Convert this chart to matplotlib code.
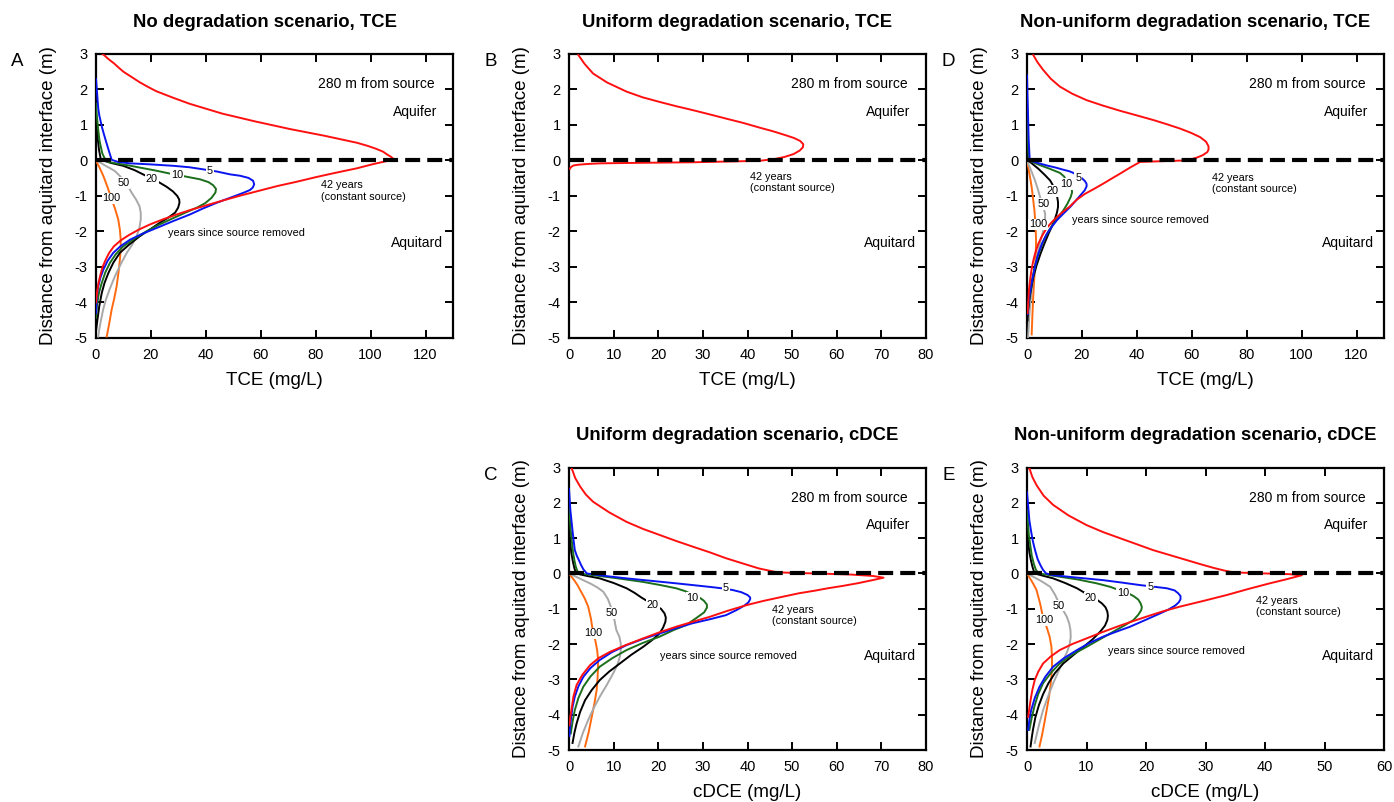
import matplotlib
matplotlib.use("Agg")
import matplotlib.pyplot as plt

plt.rcParams["font.family"] = ["Liberation Sans", "DejaVu Sans"]
plt.rcParams["axes.unicode_minus"] = False

# concentration (mg/L), with depth z (m) from the aquitard interface

# ---------------- Panel A: no degradation, TCE ----------------
a_red_c = [2.4, 3.2, 4.2, 5.3, 6.5, 8.2, 10, 13, 16, 19, 22, 28, 34, 40, 46, 52, 58, 64.5, 71, 77, 83, 89,
           95, 99, 102, 104.5, 106, 107.5, 108.5,
           101, 95, 87, 80, 73, 66, 59.5, 53, 46.5, 40.3, 34.5, 29.4, 24.3, 19.7, 15.5, 12, 9, 6.5, 4.8,
           3.5, 2.4, 1.5, 0.9, 0.5, 0.2, 0]
a_red_z = [3.0, 2.95, 2.88, 2.81, 2.74, 2.62, 2.5, 2.35, 2.2, 2.07, 1.95, 1.77, 1.6, 1.46, 1.32, 1.21, 1.1,
           0.99, 0.88, 0.79, 0.7, 0.6, 0.5, 0.41, 0.33, 0.25, 0.17, 0.1, 0.03,
           -0.1, -0.22, -0.35, -0.47, -0.6, -0.72, -0.85, -0.98, -1.12, -1.26, -1.39, -1.52, -1.66, -1.8,
           -1.95, -2.1, -2.25, -2.42, -2.6, -2.8, -3.0, -3.25, -3.45, -3.65, -3.85, -4.0]
a_blue_c = [0, 0.2, 0.4, 0.6, 0.85, 1.2, 1.7, 2.2, 2.7, 3.6, 4.5, 5.1, 5.7,
            8, 12.4, 20, 28.2, 34, 39.1, 44, 48.8, 52.5, 55.5, 57.2, 57.6, 57.1, 56.1, 54, 51.3, 47.8,
            44, 39, 34.2, 28, 22.1, 17, 12.4, 9, 6.3, 4.2, 2.7, 1.6, 0.8, 0.4, 0.2, 0]
a_blue_z = [2.3, 2.1, 1.9, 1.68, 1.45, 1.27, 1.1, 0.93, 0.79, 0.55, 0.32, 0.17, 0.02,
            -0.04, -0.08, -0.11, -0.15, -0.19, -0.25, -0.31, -0.39, -0.43, -0.49, -0.57, -0.67, -0.76,
            -0.83, -0.9, -0.98, -1.08, -1.19, -1.35, -1.52, -1.71, -1.9, -2.06, -2.23, -2.41, -2.6, -2.83,
            -3.07, -3.3, -3.55, -3.78, -3.98, -4.3]
a_green_c = [0, 0.2, 0.5, 0.9, 1.3, 1.8, 2.3, 2.9, 3.5,
             4.4, 8, 12, 16, 21.5, 27, 32.5, 37.9, 41, 42.7, 43.7, 43.5, 42.1, 39.8, 36.7, 32.5, 28.2,
             23.2, 18.5, 14, 9.9, 7.2, 5.1, 3.4, 2.1, 1.1, 0.5, 0.2, 0]
a_green_z = [1.6, 1.35, 1.1, 0.8, 0.55, 0.37, 0.2, 0.1, 0.02,
             -0.04, -0.09, -0.14, -0.2, -0.28, -0.37, -0.45, -0.53, -0.61, -0.7, -0.8, -0.9, -1.05,
             -1.2, -1.33, -1.47, -1.62, -1.8, -1.99, -2.2, -2.42, -2.64, -2.88, -3.15, -3.45, -3.72,
             -4.0, -4.2, -4.43]
a_black_c = [0, 0.25, 0.5, 0.8, 1.1, 1.5, 1.8,
             5.5, 9.9, 14, 17.9, 22, 25.7, 28, 29.6, 30.3, 30.4, 29.9, 28.8, 26.3, 23.3, 19.7, 16, 12.2,
             8.7, 6.3, 4.5, 3.1, 2.1, 1.2, 0.5, 0]
a_black_z = [1.2, 0.95, 0.7, 0.5, 0.3, 0.13, 0.02,
             -0.07, -0.15, -0.27, -0.42, -0.57, -0.74, -0.87, -1.0, -1.1, -1.19, -1.33, -1.47, -1.61,
             -1.75, -1.94, -2.13, -2.36, -2.6, -2.88, -3.17, -3.45, -3.73, -4.1, -4.5, -4.8]
a_gray_c = [0, 1.8, 3.5, 5.2, 6.9, 8.5, 10, 11.6, 13, 14.6, 15.8, 16.3, 16.3, 15.8, 14.8, 13.2, 11.2,
            9, 6.9, 5.1, 3.6, 2.6, 1.8, 1.2, 0.8]
a_gray_z = [0, -0.07, -0.15, -0.22, -0.3, -0.42, -0.55, -0.72, -0.91, -1.1, -1.28, -1.47, -1.66, -1.9,
            -2.13, -2.37, -2.6, -2.92, -3.26, -3.6, -3.92, -4.2, -4.5, -4.75, -4.96]
a_orange_c = [0, 0.6, 1.3, 2.0, 2.7, 4.2, 5.5, 6.9, 8.1, 8.7, 9.0, 9.0, 8.7, 8.2, 7.5, 6.6, 5.7, 4.8, 3.9]
a_orange_z = [0, -0.1, -0.2, -0.32, -0.44, -0.75, -1.05, -1.35, -1.66, -1.95, -2.23, -2.5, -2.79, -3.15,
              -3.55, -3.9, -4.2, -4.6, -4.96]

# ---------------- Panel B: uniform degradation, TCE ----------------
b_red_c = [2.1, 3.5, 5.4, 8.5, 12.9, 16.5, 20.3, 24, 27.7, 31.5, 35.2, 39, 42.6, 45.8, 48.6, 50.5, 51.8,
           52.5, 52.4, 51.7, 50.3, 48.3, 46, 42.6, 35, 27.7, 20, 12.9, 7, 3.9, 2, 1, 0.5, 0.2]
b_red_z = [2.97, 2.72, 2.45, 2.2, 1.94, 1.78, 1.65, 1.53, 1.42, 1.3, 1.18, 1.06, 0.93, 0.82, 0.71, 0.63,
           0.55, 0.46, 0.37, 0.28, 0.18, 0.1, 0.04, -0.01, -0.03, -0.05, -0.06, -0.07, -0.08, -0.1,
           -0.12, -0.14, -0.18, -0.23]

# ---------------- Panel C: uniform degradation, cDCE ----------------
c_red_c = [0.6, 1.4, 2.5, 3.8, 5.4, 9, 12.9, 16.6, 20.3, 24, 27.7, 31.5, 35.2, 39, 42.6, 46.7, 55, 63,
           68, 70.5, 68, 65, 61.5, 58, 55, 51.6, 47.5, 43.5, 39.7, 35.5, 31.5, 27.7, 24, 20.2, 16.6, 12.7,
           9.2, 6.6, 4.7, 3.0, 1.7, 1.0, 0.6, 0.3, 0.1]
c_red_z = [2.98, 2.7, 2.46, 2.23, 2.03, 1.73, 1.46, 1.26, 1.09, 0.92, 0.76, 0.6, 0.43, 0.28, 0.14, 0.03,
           0.0, -0.03, -0.07, -0.12, -0.19, -0.27, -0.35, -0.42, -0.49, -0.56, -0.67, -0.78, -0.9, -1.06,
           -1.23, -1.37, -1.51, -1.67, -1.84, -2.03, -2.22, -2.4, -2.6, -2.87, -3.16, -3.48, -3.82,
           -4.05, -4.3]
c_blue_c = [0, 0.15, 0.3, 0.55, 0.8, 1.05, 1.3, 1.75, 2.2, 2.7, 3.2, 4.0,
            8, 12.9, 18.5, 24, 28.5, 32.2, 34.8, 36.7, 38.6, 40, 40.6, 40.6, 40.2, 39.3, 37.5, 35.2, 31.5,
            27.7, 24, 20.3, 16.5, 12.9, 9.6, 6.9, 4.8, 3.2, 2.1, 1.3, 0.8, 0.5, 0.25, 0.1]
c_blue_z = [2.4, 2.1, 1.8, 1.5, 1.2, 0.92, 0.66, 0.5, 0.38, 0.24, 0.12, 0.0,
            -0.07, -0.14, -0.21, -0.28, -0.34, -0.39, -0.43, -0.47, -0.53, -0.61, -0.68, -0.73, -0.82,
            -0.91, -1.04, -1.18, -1.3, -1.41, -1.55, -1.7, -1.86, -2.03, -2.23, -2.45, -2.68, -2.93,
            -3.2, -3.49, -3.78, -4.06, -4.35, -4.6]
c_green_c = [0, 0.2, 0.4, 0.65, 0.9, 1.2, 1.5, 1.85, 2.2,
             5.4, 11, 16.6, 20.5, 24, 26, 27.7, 29.2, 30.2, 30.9, 30.9, 30.3, 29, 26.3, 23.5, 20.3, 16.5,
             12.9, 9.7, 6.9, 4.8, 3.2, 2.1, 1.3, 0.8, 0.4]
c_green_z = [1.9, 1.55, 1.2, 0.9, 0.6, 0.38, 0.2, 0.08, 0.0,
             -0.05, -0.14, -0.24, -0.33, -0.42, -0.5, -0.6, -0.68, -0.77, -0.88, -0.97, -1.1, -1.22,
             -1.46, -1.6, -1.79, -1.97, -2.17, -2.4, -2.64, -2.92, -3.21, -3.53, -3.87, -4.2, -4.53]
c_black_c = [0, 0.25, 0.5, 0.85, 1.2, 1.6,
             4, 6.9, 10, 12.9, 14.7, 16.2, 18.8, 20.6, 21.4, 21.7, 21.6, 21.1, 20.3, 18.6, 16.6, 14, 11.4,
             9, 6.9, 5.1, 3.6, 2.5, 1.7, 1.2, 0.8]
c_black_z = [1.3, 0.95, 0.6, 0.35, 0.15, 0.0,
             -0.07, -0.14, -0.27, -0.42, -0.55, -0.68, -0.88, -1.0, -1.13, -1.25, -1.37, -1.53, -1.7,
             -1.89, -2.08, -2.3, -2.55, -2.78, -3.02, -3.3, -3.59, -3.92, -4.25, -4.52, -4.8]
c_gray_c = [0, 1.2, 2.5, 5, 6.4, 7.7, 8.7, 9.4, 10.1, 10.6, 11.3, 11.6, 11.6, 11.4, 10.8, 9.9, 8.5, 6.9,
            5.5, 4.3, 3.1, 2.1]
c_gray_z = [0, -0.07, -0.15, -0.3, -0.4, -0.52, -0.72, -0.95, -1.27, -1.6, -1.8, -1.98, -2.17, -2.36,
            -2.6, -2.83, -3.15, -3.49, -3.82, -4.15, -4.52, -4.9]
c_orange_c = [0, 0.6, 1.2, 1.9, 2.5, 3.5, 4.3, 4.9, 5.3, 5.9, 6.3, 6.5, 6.5, 6.4, 6.2, 5.7, 5.1, 4.4, 3.6]
c_orange_z = [0, -0.1, -0.2, -0.33, -0.47, -0.7, -0.94, -1.27, -1.6, -1.9, -2.17, -2.4, -2.64, -2.97,
              -3.3, -3.68, -4.06, -4.5, -4.9]

# ---------------- Panel D: non-uniform degradation, TCE ----------------
d_red_c = [2.3, 3.8, 5.9, 8.7, 12, 16.5, 21.7, 27.5, 33.9, 40, 46, 51, 55.7, 59.7, 63, 65.2, 66.1, 66.1,
           65.7, 64, 61.8, 59.5, 57, 49, 41.2, 37.5, 33.9, 30.8, 27.8, 24.4, 21.1, 18.2, 15.5, 13, 10.8,
           9, 7.2, 5.5, 4.1, 3.1, 2.3, 1.6, 1.1, 0.7, 0.5, 0.2]
d_red_z = [2.97, 2.77, 2.55, 2.3, 2.08, 1.88, 1.7, 1.55, 1.4, 1.27, 1.14, 1.02, 0.9, 0.78, 0.66, 0.53,
           0.4, 0.31, 0.24, 0.15, 0.08, 0.03, 0.0, -0.02, -0.04, -0.2, -0.37, -0.51, -0.65, -0.8, -0.94,
           -1.1, -1.3, -1.45, -1.6, -1.74, -1.9, -2.12, -2.35, -2.58, -2.82, -3.1, -3.38, -3.65, -3.95,
           -4.3]
d_blue_c = [0, 0.15, 0.3, 0.45, 0.6, 0.8, 1.0, 3.5, 7.2, 10.5, 13.2, 15.3, 16.9, 18.5, 20, 21.1, 21.7,
            21.7, 21, 19.9, 17.9, 15.7, 13.2, 10.8, 8.9, 7.2, 5.5, 4.1, 3, 2.1, 1.4, 0.8, 0.4, 0.2]
d_blue_z = [2.4, 1.9, 1.5, 1.05, 0.6, 0.3, 0.0, -0.06, -0.14, -0.2, -0.26, -0.3, -0.35, -0.43, -0.5,
            -0.58, -0.66, -0.73, -0.84, -0.94, -1.12, -1.31, -1.5, -1.69, -1.88, -2.07, -2.33, -2.63,
            -2.95, -3.29, -3.57, -3.85, -4.1, -4.33]
d_green_c = [0, 0.15, 0.3, 0.5, 0.7, 2.5, 4.7, 8.5, 12, 13.5, 14.2, 15.4, 16.3, 16.4, 15.9, 14.7, 13.2,
             11.4, 9.6, 8, 6.6, 5.1, 3.8, 2.7, 1.8, 1.1, 0.6]
d_green_z = [1.5, 1.1, 0.7, 0.3, 0.0, -0.06, -0.13, -0.24, -0.35, -0.45, -0.55, -0.65, -0.77, -0.9,
             -1.03, -1.22, -1.41, -1.6, -1.78, -1.97, -2.16, -2.44, -2.73, -3.05, -3.38, -3.7, -4.04]
d_black_c = [0, 0.15, 0.4, 2.2, 4.1, 6.4, 8.4, 9.3, 9.8, 10.6, 11, 11.3, 11.3, 10.9, 10.2, 9.1, 7.8, 6.3,
             4.9, 3.5, 2.3, 1.5, 0.8, 0.4, 0.2]
d_black_z = [1.0, 0.5, 0.0, -0.11, -0.23, -0.4, -0.56, -0.68, -0.8, -0.92, -1.03, -1.17, -1.31, -1.47,
             -1.64, -1.85, -2.07, -2.35, -2.63, -2.95, -3.29, -3.62, -3.95, -4.22, -4.5]
d_gray_c = [0, 0.75, 1.5, 2.2, 2.9, 4, 5, 5.9, 6.6, 6.6, 6.2, 5.5, 4.6, 3.7, 2.9, 2.2, 1.7, 1.2, 0.8,
            0.6, 0.4]
d_gray_z = [0, -0.14, -0.28, -0.42, -0.56, -0.82, -1.1, -1.3, -1.5, -1.7, -1.88, -2.1, -2.35, -2.68,
            -3.01, -3.33, -3.66, -4.03, -4.41, -4.7, -4.97]
d_orange_c = [0, 0.45, 0.9, 1.3, 1.7, 2.2, 2.7, 3.1, 3.3, 3.2, 2.9, 2.6, 2.3, 2.0, 1.7]
d_orange_z = [0, -0.19, -0.38, -0.56, -0.75, -1.07, -1.4, -1.82, -2.25, -2.62, -3.0, -3.38, -3.77,
              -4.3, -4.9]

# ---------------- Panel E: non-uniform degradation, cDCE ----------------
e_red_c = [0.4, 0.9, 1.6, 2.8, 4.4, 7, 10, 12.8, 15.6, 18.4, 21.2, 24, 26.8, 29.2, 31.3, 33.2, 34.7, 40,
           44, 46.2, 43.5, 40.8, 37.2, 33.6, 29.6, 25.7, 22.9, 20.5, 18, 15.6, 12.7, 10, 7.6, 5.5, 4,
           2.7, 1.9, 1.3, 0.9, 0.6, 0.4, 0.2]
e_red_z = [2.98, 2.73, 2.5, 2.2, 1.94, 1.64, 1.37, 1.17, 1.0, 0.83, 0.66, 0.52, 0.38, 0.26, 0.16, 0.08,
           0.03, 0.0, -0.02, -0.05, -0.17, -0.28, -0.44, -0.61, -0.78, -0.94, -1.07, -1.2, -1.34, -1.48,
           -1.66, -1.84, -2.0, -2.17, -2.35, -2.55, -2.78, -3.02, -3.3, -3.59, -3.82, -4.06]
e_blue_c = [0, 0.2, 0.4, 0.7, 1.0, 1.4, 1.8, 2.3, 2.7, 3.2,
            4.4, 8.5, 12.8, 16, 19, 21.5, 23.5, 24.8, 25.4, 25.8, 25.8, 25.5, 24.9, 23.8, 22.4, 20, 17.3,
            15, 12.8, 10.5, 8.4, 6.2, 4.4, 3.1, 2.1, 1.3, 0.7, 0.4, 0.2]
e_blue_z = [2.3, 1.9, 1.5, 1.18, 0.9, 0.63, 0.4, 0.22, 0.1, 0.0,
            -0.05, -0.12, -0.19, -0.26, -0.33, -0.38, -0.42, -0.48, -0.56, -0.64, -0.73, -0.82, -0.91,
            -1.02, -1.13, -1.31, -1.51, -1.65, -1.79, -1.97, -2.17, -2.4, -2.64, -2.92, -3.21, -3.53,
            -3.87, -4.15, -4.43]
e_green_c = [0, 0.15, 0.3, 0.55, 0.8, 1.15, 1.5, 2.0,
             5.0, 8.5, 11.7, 14, 15.9, 17.1, 17.9, 18.7, 19.1, 19.3, 19.2, 18.7, 17.9, 16.3, 14.5, 12.3,
             10, 7.6, 5.5, 4, 2.7, 1.9, 1.3, 0.8, 0.4]
e_green_z = [1.8, 1.45, 1.1, 0.8, 0.5, 0.27, 0.1, 0.0,
             -0.08, -0.17, -0.28, -0.38, -0.5, -0.57, -0.64, -0.74, -0.85, -0.95, -1.04, -1.17, -1.32,
             -1.48, -1.65, -1.86, -2.08, -2.3, -2.55, -2.82, -3.11, -3.41, -3.73, -4.08, -4.43]
e_black_c = [0, 0.2, 0.4, 0.65, 0.9, 1.1, 1.3,
             2.8, 4.4, 6.4, 8.4, 9.6, 10.7, 11.8, 12.6, 13.2, 13.5, 13.6, 13.5, 13.1, 12.3, 11, 9.5, 7.8,
             6.1, 4.7, 3.6, 2.7, 2.0, 1.4, 1.0, 0.8, 0.6]
e_black_z = [1.2, 0.9, 0.6, 0.38, 0.2, 0.09, 0.0,
             -0.07, -0.14, -0.27, -0.42, -0.54, -0.66, -0.75, -0.85, -0.96, -1.08, -1.2, -1.32, -1.48,
             -1.65, -1.87, -2.08, -2.31, -2.55, -2.82, -3.11, -3.42, -3.73, -4.08, -4.43, -4.65, -4.9]
e_gray_c = [0, 1, 2.0, 3.0, 3.9, 4.7, 5.4, 6.1, 6.7, 7.1, 7.3, 7.35, 7.2, 6.8, 6.1, 5.3, 4.4, 3.5, 2.7,
            2.0, 1.3]
e_gray_z = [0, -0.09, -0.18, -0.28, -0.38, -0.6, -0.85, -1.05, -1.23, -1.42, -1.6, -1.8, -1.98, -2.2,
            -2.45, -2.77, -3.11, -3.5, -3.87, -4.3, -4.8]
e_orange_c = [0, 0.4, 0.8, 1.2, 1.6, 2.2, 2.7, 3.3, 3.8, 4.1, 4.2, 4.2, 4.1, 3.9, 3.6, 3.2, 2.8, 2.5, 2.1]
e_orange_z = [0, -0.11, -0.22, -0.34, -0.47, -0.85, -1.25, -1.52, -1.79, -2.07, -2.36, -2.65, -2.93,
              -3.26, -3.59, -3.97, -4.34, -4.6, -4.9]

# curve labels (years since source removed)
year_labels = ["5", "10", "20", "50", "100"]
a_label_pos = [(41.5, -0.29), (29.6, -0.42), (20.3, -0.53), (9.9, -0.64), (5.7, -1.07)]
c_label_pos = [(35.2, -0.42), (27.7, -0.69), (18.8, -0.9), (9.5, -1.13), (5.4, -1.7)]
d_label_pos = [(18.7, -0.48), (14.1, -0.67), (9.4, -0.86), (5.9, -1.22), (4.1, -1.8)]
e_label_pos = [(20.7, -0.39), (16.2, -0.56), (10.7, -0.69), (5.4, -0.91), (2.9, -1.32)]

colors = {"red": "#ff1010", "blue": "#0a14f0", "green": "#1b6e1b",
          "black": "#000000", "gray": "#a8a8a8", "orange": "#ff6a10"}

W, H = 1394, 802
fig = plt.figure(figsize=(W / 100, H / 100), dpi=100)


def make_axes(left_px, top_px, bottom_px, width_px=357):
    return fig.add_axes([left_px / W, (H - bottom_px) / H, width_px / W, (bottom_px - top_px) / H])


def draw_panel(ax, curves, xmax, xstep, xlabel, title, letter,
               label_pos=None, const_pos=None, removed_pos=None):
    for c, z, col in curves:
        ax.plot(c, z, color=colors[col], lw=1.4, zorder=3, solid_joinstyle="round")
    ax.axhline(0, color="black", lw=3, dashes=(3.6, 1.7), zorder=5)
    if label_pos is not None:
        for lab, (x, y) in zip(year_labels, label_pos):
            ax.text(x, y, lab, fontsize=7.8, ha="center", va="center", zorder=4,
                    bbox=dict(facecolor="white", edgecolor="none", pad=0.6))
    if const_pos is not None:
        ax.text(const_pos[0], const_pos[1], "42 years\n(constant source)", fontsize=7.8,
                ha="left", va="center", linespacing=1.15, zorder=6)
    if removed_pos is not None:
        ax.text(removed_pos[0], removed_pos[1], "years since source removed", fontsize=7.8,
                ha="left", va="center", zorder=6)
    ax.text(0.786, 0.893, "280 m from source", transform=ax.transAxes, fontsize=10,
            ha="center", va="center")
    ax.text(0.894, 0.797, "Aquifer", transform=ax.transAxes, fontsize=10, ha="center", va="center")
    ax.text(0.899, 0.333, "Aquitard", transform=ax.transAxes, fontsize=10, ha="center", va="center")

    ax.set_xlim(0, xmax)
    ax.set_ylim(-5, 3)
    ax.set_xticks(list(range(0, int(xmax) + 1, xstep)))
    ax.set_yticks(list(range(-5, 4)))
    ax.tick_params(direction="in", top=True, right=True, length=6, width=1.4, labelsize=10.5)
    ax.tick_params(axis="x", pad=7)
    ax.tick_params(axis="y", pad=6)
    for sp in ax.spines.values():
        sp.set_linewidth(1.6)

    ax.text(0.472, 1.112, title, transform=ax.transAxes, fontsize=13.3, fontweight="bold",
            ha="center", va="center")
    ax.text(-0.134, 0.5, "Distance from aquitard interface (m)", transform=ax.transAxes,
            fontsize=13.5, rotation=90, ha="center", va="center")
    ax.text(0.5, -0.15, xlabel, transform=ax.transAxes, fontsize=13.5, ha="center", va="center")
    ax.text(-0.22, 0.972, letter, transform=ax.transAxes, fontsize=13.5, ha="center", va="center")


def six_curves(p):
    g = globals()
    order = ["orange", "gray", "black", "green", "blue", "red"]
    return [(g[f"{p}_{k}_c"], g[f"{p}_{k}_z"], k) for k in order]


ax_a = make_axes(96, 54, 338)
draw_panel(ax_a, six_curves("a"), 130, 20, "TCE (mg/L)", "No degradation scenario, TCE", "A",
           a_label_pos, (82, -0.86), (26.3, -2.04))

ax_b = make_axes(569, 54, 338)
draw_panel(ax_b, [(b_red_c, b_red_z, "red")], 80, 10, "TCE (mg/L)",
           "Uniform degradation scenario, TCE", "B", None, (40.5, -0.62), None)

ax_d = make_axes(1027, 54, 338)
draw_panel(ax_d, six_curves("d"), 130, 20, "TCE (mg/L)", "Non-uniform degradation scenario, TCE", "D",
           d_label_pos, (67.5, -0.64), (16.5, -1.68))

ax_c = make_axes(569, 467.5, 750)
draw_panel(ax_c, six_curves("c"), 80, 10, "cDCE (mg/L)", "Uniform degradation scenario, cDCE", "C",
           c_label_pos, (45.6, -1.2), (20.3, -2.34))

ax_e = make_axes(1027, 467.5, 750)
draw_panel(ax_e, six_curves("e"), 60, 10, "cDCE (mg/L)", "Non-uniform degradation scenario, cDCE", "E",
           e_label_pos, (38.5, -0.93), (13.6, -2.2))

fig.savefig("out.png", dpi=100)
